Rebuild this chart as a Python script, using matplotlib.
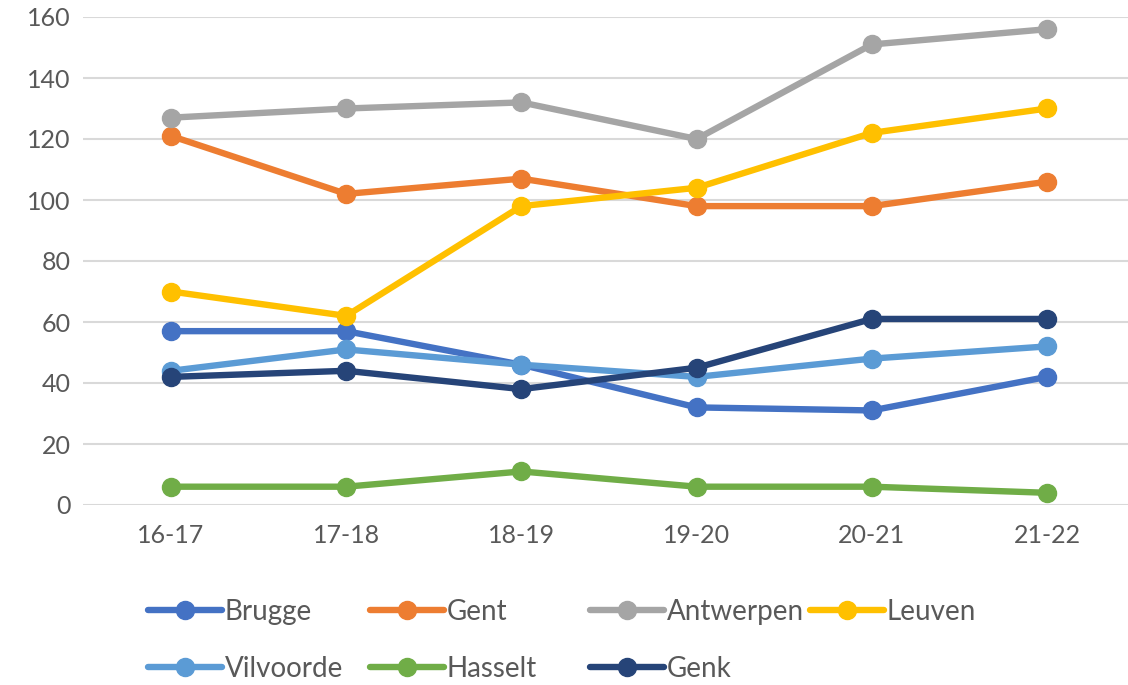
import matplotlib.pyplot as plt
from matplotlib.lines import Line2D

plt.rcParams['font.family'] = ['Lato', 'DejaVu Sans']

seasons = ['16-17', '17-18', '18-19', '19-20', '20-21', '21-22']
brugge = [57, 57, 46, 32, 31, 42]
gent = [121, 102, 107, 98, 98, 106]
antwerpen = [127, 130, 132, 120, 151, 156]
leuven = [70, 62, 98, 104, 122, 130]
vilvoorde = [44, 51, 46, 42, 48, 52]
hasselt = [6, 6, 11, 6, 6, 4]
genk = [42, 44, 38, 45, 61, 61]

series = [
    ('Brugge', brugge, '#4472C4'),
    ('Gent', gent, '#ED7D31'),
    ('Antwerpen', antwerpen, '#A5A5A5'),
    ('Leuven', leuven, '#FFC000'),
    ('Vilvoorde', vilvoorde, '#5B9BD5'),
    ('Hasselt', hasselt, '#70AD47'),
    ('Genk', genk, '#264478'),
]

fig = plt.figure(figsize=(11.28, 6.85), dpi=100)
ax = fig.add_axes([83.4 / 1128, 180 / 685, (1128 - 83.4) / 1128, 488 / 685])

x = range(len(seasons))
handles = {}
for name, vals, color in series:
    line, = ax.plot(x, vals, color=color, lw=4.6, marker='o', ms=13,
                    solid_capstyle='round', label=name, clip_on=False)
    handles[name] = line

ax.set_ylim(0, 160)
ax.set_xlim(-0.5, (1128 - 171) / 175.2)
ax.set_yticks(range(0, 161, 20))
ax.set_xticks(list(x))
ax.set_xticklabels(seasons)
ax.yaxis.grid(True, color='#D9D9D9', lw=1.5)
ax.set_axisbelow(True)
for s in ax.spines.values():
    s.set_visible(False)
ax.tick_params(length=0, labelsize=18, colors='#595959')
ax.tick_params(axis='x', pad=14)
ax.tick_params(axis='y', pad=9)

# legend: Excel style fixed column positions, rows top to bottom
cols = [['Brugge', 'Vilvoorde'], ['Gent', 'Hasselt'], ['Antwerpen', 'Genk'], ['Leuven']]
col_x = [148, 370, 590, 810]
for names, cx in zip(cols, col_x):
    hs = [Line2D([], [], color=handles[n].get_color(), lw=4.6, marker='o', ms=13,
                 solid_capstyle='round') for n in names]
    leg = fig.legend(hs, names, loc='upper left', bbox_to_anchor=(cx / 1128, 1 - 599 / 685),
                     frameon=False, fontsize=20, handlelength=2.65, handletextpad=0.12,
                     labelspacing=1.1, borderpad=0, borderaxespad=0)
    for t in leg.get_texts():
        t.set_color('#595959')

fig.savefig('out.png', dpi=100)
